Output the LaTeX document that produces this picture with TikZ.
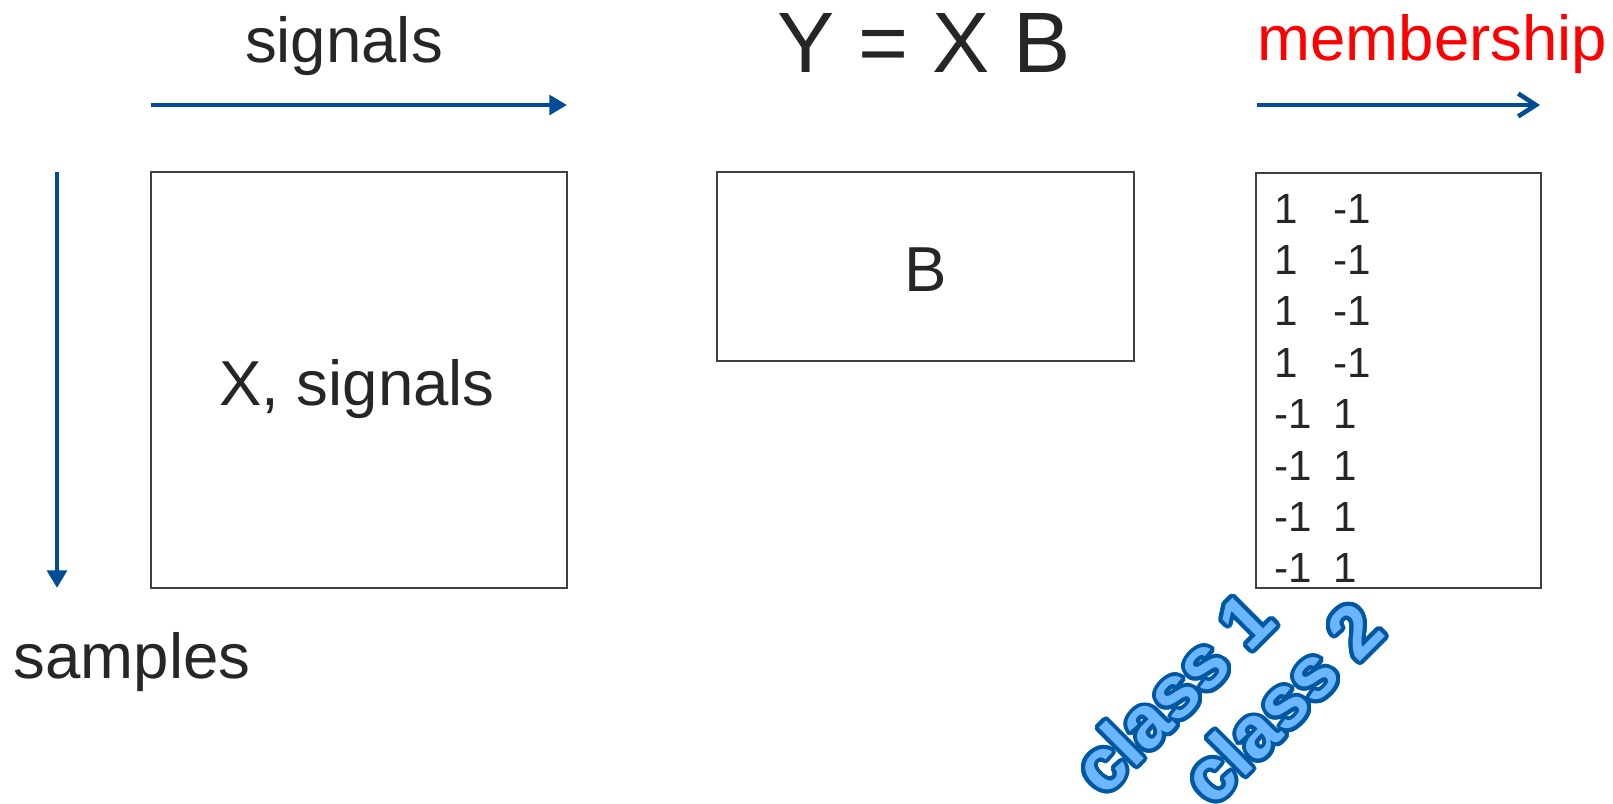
\documentclass[tikz,border=0pt]{standalone}
\usepackage{fontspec}
\setmainfont{Liberation Sans}
\usepackage{contour}
\usetikzlibrary{arrows.meta,positioning}
\definecolor{txtgray}{HTML}{262626}
\definecolor{boxgray}{HTML}{404040}
\definecolor{arrblue}{HTML}{004C97}
\definecolor{clsfill}{HTML}{6CB6FF}
\definecolor{clsline}{HTML}{0058A3}
\contourlength{1.1pt}
\contournumber{24}

\begin{document}
\begin{tikzpicture}[x=0.01cm, y=-0.01cm,
                    every node/.style={text=txtgray, inner sep=0pt},
                    mat/.style={draw=boxgray, line width=0.6pt},
                    axis/.style={arrblue, line width=1.3pt, -{Triangle[length=5pt,width=5.5pt]}},
                    axisopen/.style={arrblue, line width=1.3pt, -{Straight Barb[length=5pt,width=6.5pt,line width=1.3pt]}},
                    lbl/.style={font=\fontsize{18.07}{21}\selectfont},
                    entry/.style={font=\fontsize{12}{14}\selectfont, anchor=base west},
                    cls/.style={font=\fontsize{21}{24}\selectfont\bfseries, rotate=45},
                   ]
\useasboundingbox (0,0) rectangle (1613,803);

% the three matrices
\node[mat, minimum width=4.16cm, minimum height=4.16cm] (X) at (359,380) {};
\node[mat, minimum width=4.17cm, minimum height=1.89cm] (B) at (925.5,266.5) {};
\node[mat, minimum width=2.85cm, minimum height=4.15cm] (Y) at (1398.5,380.5) {};

\node[lbl, anchor=base] (Xlbl) at (357,405) {X, signals};
\node[lbl, anchor=base] (Blbl) at (926,291) {B};
\node[anchor=base, font=\fontsize{24.4}{28}\selectfont] (eq) at (924,72) {Y = X B};

% axes
\coordinate (sigL) at (151,105);
\coordinate (sigR) at (567,105);
\coordinate (smpT) at (57,172);
\coordinate (smpB) at (57,588);
\coordinate (memL) at (1257,105);
\coordinate (memR) at (1540,105);

\draw[axis] (sigL) -- (sigR);
\draw[axis] (smpT) -- (smpB);
\draw[axisopen] (memL) -- (memR);

\node[lbl, anchor=base] (sig) at (344,62) {signals};
\node[lbl, anchor=base west] (smp) at (13,678) {samples};
\node[lbl, anchor=base west, text=red] (mem) at (1257,60) {membership};

% membership entries
\foreach \p/\q [count=\i] in {1/-1,1/-1,1/-1,1/-1,-1/1,-1/1,-1/1,-1/1}{
  \node[entry] (p\i) at (1274,{171.6+51.4*\i}) {\p};
  \node[entry] (q\i) at (1333,{171.6+51.4*\i}) {\q};
}

% class labels
\node[cls] (c1) at (1174,694) {\contour{clsline}{\textcolor{clsfill}{class 1}}};
\node[cls] (c2) at (1283,704) {\contour{clsline}{\textcolor{clsfill}{class 2}}};

\end{tikzpicture}
\end{document}
